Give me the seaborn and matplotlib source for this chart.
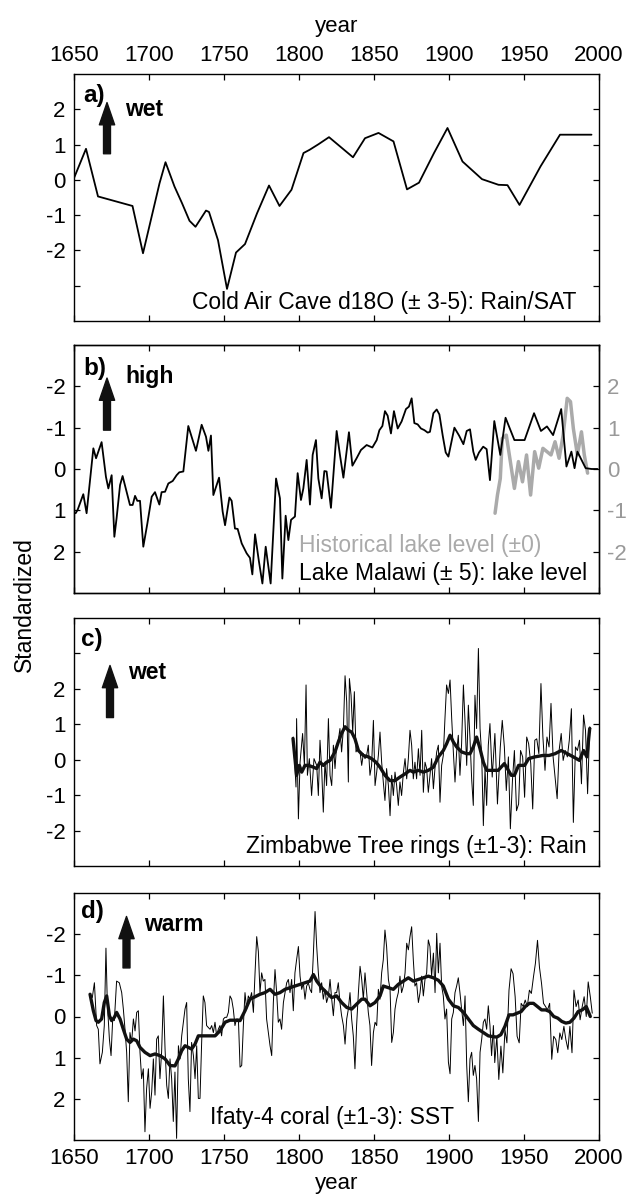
import numpy as np
import pandas as pd
import seaborn as sns
from matplotlib import pyplot as plt

# a) Cold Air Cave d18O
years_a = [1650, 1658, 1666, 1689, 1696, 1707, 1711, 1717, 1722, 1727, 1731, 1738, 1740, 1746,
           1752, 1758, 1764, 1772, 1780, 1787, 1795, 1803, 1807, 1813, 1820, 1836, 1844, 1853,
           1863, 1872, 1880, 1890, 1899, 1909, 1922, 1933, 1939, 1947, 1961, 1974, 1995]
vals_a = [0.05, 0.88, -0.47, -0.74, -2.08, -0.1, 0.5, -0.19, -0.66, -1.16, -1.33, -0.87, -0.91, -1.71,
          -3.09, -2.06, -1.82, -0.95, -0.16, -0.74, -0.28, 0.76, 0.85, 1.01, 1.21, 0.64, 1.18, 1.33,
          1.09, -0.27, -0.08, 0.76, 1.47, 0.52, 0.02, -0.14, -0.15, -0.71, 0.38, 1.28, 1.28]

# b) Lake Malawi lake level (left axis inverted)
years_b = [1651.1, 1652.4, 1654.4, 1656.2, 1658.4, 1662.9, 1664.7, 1668.4, 1671.3, 1672.9, 1675.1,
           1676.9, 1678.4, 1680.7, 1682.4, 1685.1, 1687.3, 1689.1, 1690.7, 1692.2, 1694.0, 1696.2,
           1698.9, 1701.8, 1704.0, 1706.9, 1708.4, 1710.7, 1712.9, 1715.8, 1718.4, 1720.2, 1722.9,
           1726.2, 1728.4, 1731.3, 1735.1, 1738.0, 1739.6, 1741.3, 1742.9, 1746.7, 1749.1, 1750.7,
           1753.6, 1755.1, 1757.3, 1759.1, 1761.8, 1765.1, 1767.3, 1768.9, 1770.7, 1773.3, 1775.6,
           1777.8, 1781.1, 1784.7, 1787.3, 1788.9, 1791.1, 1792.9, 1794.7, 1797.3, 1799.1, 1801.3,
           1802.9, 1805.1, 1807.3, 1809.1, 1811.3, 1812.9, 1815.1, 1816.9, 1818.4, 1821.3, 1825.1,
           1827.3, 1829.6, 1833.3, 1835.6, 1838.4, 1841.3, 1845.1, 1848.9, 1851.8, 1853.6, 1855.6,
           1857.3, 1859.1, 1861.3, 1863.3, 1865.8, 1868.4, 1871.3, 1873.3, 1875.1, 1876.9, 1879.1,
           1881.3, 1883.6, 1885.8, 1887.3, 1889.6, 1891.8, 1893.6, 1895.8, 1897.8, 1899.6, 1903.6,
           1906.7, 1909.6, 1911.8, 1914.0, 1916.2, 1917.8, 1920.0, 1922.8, 1925.1, 1927.3, 1930.2,
           1934.2, 1937.7, 1943.6, 1950.4, 1956.7, 1961.3, 1965.3, 1969.4, 1974.8, 1978.3, 1981.6,
           1983.7, 1985.6, 1991.1, 1995.1, 1999.0]
vals_b = [1.07, 0.99, 0.79, 0.61, 1.07, -0.5, -0.26, -0.65, 0.19, 0.47, 0.15,
          1.64, 1.19, 0.39, 0.17, 0.55, 0.87, 0.87, 0.65, 0.77, 0.77, 1.88,
          1.32, 0.67, 0.56, 0.86, 0.56, 0.55, 0.35, 0.29, 0.15, 0.08, 0.06,
          -1.04, -0.78, -0.44, -1.07, -0.78, -0.44, -0.81, 0.63, 0.21, 1.03, 1.36,
          0.69, 0.77, 1.44, 1.45, 1.8, 2.04, 2.15, 2.55, 1.58, 2.24, 2.77,
          1.88, 2.77, 0.23, 0.71, 2.65, 1.13, 1.72, 1.23, 1.15, 0.1, 0.75,
          0.47, -0.22, 0.86, -0.34, -0.7, 0.23, 0.71, 0.05, 0.06, 0.94, -0.92,
          -0.34, 0.21, -0.89, -0.08, -0.26, -0.46, -0.58, -0.52, -0.7, -0.94, -1.04,
          -1.4, -1.29, -0.86, -1.4, -0.98, -1.15, -1.45, -1.51, -1.71, -1.11, -1.08,
          -0.98, -0.94, -0.88, -0.9, -1.35, -1.44, -1.32, -0.81, -0.4, -0.3, -1.0,
          -0.81, -0.6, -0.92, -0.96, -0.42, -0.22, -0.4, -0.54, -0.48, 0.27, -1.16,
          -0.34, -1.24, -0.7, -0.7, -1.35, -0.92, -1.03, -0.82, -1.45, -0.06, -0.42,
          -0.02, -0.42, -0.02, 0.0, 0.0]

# b) historical lake level (right axis)
years_hist = [1930.7, 1932.3, 1934.2, 1935.5, 1938.2, 1940.9, 1943.6, 1946.3, 1949.0, 1951.7,
              1954.4, 1957.1, 1959.8, 1962.6, 1965.3, 1968.0, 1970.7, 1973.4, 1976.1, 1978.8,
              1981.0, 1982.9, 1985.6, 1988.3, 1990.2, 1992.4]
vals_hist = [-1.07, -0.63, -0.23, 0.74, 0.82, 0.18, -0.47, 0.18, -0.31, 0.34,
             -0.63, 0.42, 0.02, 0.5, 0.42, 0.34, 0.66, 0.26, 0.82, 1.71,
             1.63, 0.98, 0.34, 0.9, 0.34, -0.1]

# c) Zimbabwe tree rings
years_c = [1796.2, 1798.0, 1798.4, 1799.6, 1800.7, 1802.4, 1803.6, 1804.7, 1805.6, 1806.9, 1808.4,
           1810.0, 1811.8, 1812.9, 1814.0, 1815.1, 1816.2, 1817.3, 1818.4, 1819.6, 1820.7, 1821.8,
           1822.9, 1824.0, 1825.1, 1826.2, 1827.3, 1828.4, 1829.6, 1830.7, 1831.8, 1832.9, 1833.6,
           1834.7, 1835.8, 1836.9, 1838.0, 1839.1, 1840.7, 1841.8, 1842.9, 1844.0, 1845.1, 1846.2,
           1847.3, 1848.4, 1849.6, 1850.7, 1851.8, 1852.9, 1854.0, 1855.1, 1856.2, 1857.3, 1858.4,
           1859.6, 1860.7, 1861.8, 1862.9, 1864.0, 1865.1, 1866.2, 1867.3, 1868.4, 1869.6, 1870.7,
           1871.8, 1872.9, 1874.0, 1875.1, 1876.2, 1877.3, 1878.4, 1879.6, 1880.7, 1881.8, 1882.9,
           1884.0, 1885.1, 1886.2, 1887.3, 1888.4, 1889.6, 1890.7, 1891.8, 1892.9, 1894.0, 1895.1,
           1896.2, 1897.3, 1898.4, 1899.6, 1900.7, 1901.8, 1902.9, 1904.0, 1905.1, 1906.2, 1907.3,
           1908.4, 1909.6, 1910.7, 1911.8, 1912.9, 1914.0, 1915.1, 1916.2, 1917.3, 1918.4, 1919.6,
           1920.7, 1921.8, 1922.9, 1924.0, 1925.1, 1926.2, 1927.3, 1928.8, 1930.6, 1932.3, 1934.2,
           1935.5, 1936.9, 1938.2, 1939.6, 1940.9, 1942.3, 1943.6, 1945.0, 1946.4, 1947.7, 1949.1,
           1950.4, 1951.8, 1953.1, 1954.5, 1955.8, 1957.2, 1958.5, 1959.9, 1961.3, 1962.6, 1964.0,
           1965.3, 1966.7, 1968.0, 1969.4, 1970.7, 1972.1, 1973.4, 1974.8, 1976.1, 1977.5, 1978.9,
           1980.2, 1981.6, 1982.9, 1984.3, 1985.6, 1987.0, 1988.3, 1989.7, 1991.0, 1992.4, 1993.8,
           1994.6]
vals_c = [0.64, -0.77, 1.16, -1.67, -0.07, 0.74, -0.16, 2.11, -0.44, 0.03, -1.01,
          0.03, -0.16, -1.01, 0.55, -0.25, -1.48, -0.07, -0.73, 1.16, -0.44, -0.73,
          0.41, -0.25, 0.41, 0.55, 0.88, 0.22, 0.88, 2.37, 1.63, -0.63, 2.29,
          1.82, 0.78, 1.92, 0.22, 0.31, 0.22, -0.16, 0.17, 0.03, 0.12, 0.41,
          -0.44, -0.16, 1.11, -0.73, -0.35, 0.12, 0.78, -0.07, -0.63, -1.15, -0.25,
          -0.73, -1.58, -0.44, -1.01, -0.35, -0.73, -1.29, -0.63, -1.01, -0.35, 0.03,
          -0.54, 0.03, 0.83, 0.41, -0.54, -0.07, -0.54, 0.31, -0.44, 0.83, -0.92,
          -0.07, -0.25, -0.92, -0.44, 0.03, -0.82, -0.21, 0.22, 0.41, -1.2, -0.16,
          0.12, 1.16, 2.11, 1.87, 2.25, 1.16, 0.22, -0.63, 0.22, 0.69, -0.44,
          0.45, 2.11, 1.07, -0.16, 1.54, 0.59, -0.54, -1.29, 1.82, 0.88, 3.14,
          0.88, 0.12, -1.86, -0.25, -1.29, 0.41, 1.02, -0.49, 0.74, -1.25, 0.36,
          1.11, 0.36, -0.87, 0.08, -1.95, -0.59, 0.26, -1.44, -1.25, 0.26, 0.08,
          -1.06, 0.64, 0.45, -0.11, -1.39, 0.55, 0.59, 0.17, 2.15, 0.64, -0.3,
          0.64, 0.36, 1.59, 0.08, -0.49, -1.1, 0.26, 0.74, -0.02, 0.26, 0.08,
          0.55, 1.44, -1.77, 0.36, 0.26, 0.55, -0.68, 1.26, 0.83, -0.96, 0.93,
          0.88]

years_c_smooth = [1796.0, 1798.4, 1800.2, 1801.8, 1804.0, 1806.2, 1809.6, 1811.8, 1814.0, 1816.2,
                  1818.4, 1820.7, 1824.0, 1826.2, 1828.4, 1830.7, 1832.9, 1835.1, 1837.3, 1839.6,
                  1842.9, 1846.2, 1848.4, 1851.3, 1854.0, 1857.3, 1860.7, 1864.0, 1867.3, 1870.7,
                  1874.0, 1876.2, 1879.6, 1882.9, 1886.2, 1889.6, 1892.9, 1896.2, 1898.4, 1900.7,
                  1902.9, 1905.1, 1908.4, 1911.8, 1914.0, 1916.2, 1918.4, 1920.7, 1922.9, 1925.1,
                  1928.6, 1932.8, 1936.9, 1939.6, 1941.5, 1943.6, 1946.4, 1950.4, 1953.1, 1957.2,
                  1962.6, 1966.7, 1970.7, 1974.8, 1978.9, 1982.9, 1987.0, 1989.7, 1991.9, 1993.8]
vals_c_smooth = [0.6, -0.44, -0.16, -0.35, -0.16, -0.16, -0.21, -0.25, -0.07, -0.16,
                 -0.07, -0.02, 0.22, 0.5, 0.74, 0.93, 0.83, 0.78, 0.59, 0.26,
                 0.12, 0.08, 0.03, -0.07, -0.21, -0.44, -0.59, -0.59, -0.49, -0.4,
                 -0.3, -0.35, -0.3, -0.35, -0.3, -0.21, 0.08, 0.26, 0.45, 0.69,
                 0.5, 0.36, 0.22, 0.17, 0.17, 0.36, 0.64, 0.31, -0.07, -0.3,
                 -0.3, -0.3, -0.11, -0.3, -0.44, -0.44, -0.16, -0.16, 0.03, 0.08,
                 0.12, 0.12, 0.17, 0.26, 0.17, 0.08, -0.02, 0.26, 0.08, 0.88]

# d) Ifaty-4 coral (left axis inverted)
years_d = [1660.7, 1662.2, 1663.6, 1665.1, 1666.2, 1667.3, 1668.9, 1670.2, 1671.3, 1672.2, 1673.6,
           1674.7, 1675.8, 1676.9, 1678.4, 1680.2, 1681.8, 1682.9, 1684.0, 1685.1, 1686.2, 1687.3,
           1688.4, 1689.6, 1690.7, 1691.8, 1692.9, 1694.0, 1695.1, 1696.2, 1697.3, 1698.4, 1699.6,
           1700.7, 1701.8, 1702.9, 1704.0, 1705.1, 1706.2, 1707.3, 1708.4, 1709.6, 1710.7, 1711.8,
           1712.9, 1714.0, 1715.1, 1716.2, 1717.3, 1718.4, 1719.6, 1720.7, 1721.8, 1722.9, 1724.0,
           1725.1, 1726.2, 1727.3, 1728.4, 1729.6, 1730.7, 1731.8, 1732.9, 1734.0, 1735.1, 1736.2,
           1737.3, 1738.4, 1739.6, 1740.7, 1741.8, 1742.9, 1744.0, 1745.1, 1746.2, 1747.3, 1748.4,
           1749.6, 1750.7, 1751.8, 1752.9, 1754.0, 1755.1, 1756.2, 1757.3, 1758.4, 1759.6, 1760.7,
           1761.8, 1762.9, 1764.0, 1765.1, 1766.2, 1767.3, 1768.4, 1769.6, 1770.7, 1771.8, 1772.9,
           1774.0, 1775.1, 1776.2, 1777.3, 1778.4, 1779.6, 1780.7, 1781.8, 1782.9, 1784.0, 1785.1,
           1786.2, 1787.3, 1788.4, 1789.6, 1790.7, 1791.8, 1792.9, 1794.0, 1795.1, 1796.2, 1797.3,
           1798.4, 1799.6, 1800.7, 1801.8, 1802.9, 1804.0, 1805.1, 1806.2, 1807.3, 1808.4, 1809.6,
           1810.7, 1811.8, 1812.9, 1814.0, 1815.1, 1816.2, 1817.3, 1818.4, 1819.6, 1820.7, 1821.8,
           1822.9, 1824.0, 1825.1, 1826.2, 1827.3, 1828.4, 1829.6, 1830.7, 1831.8, 1832.9, 1834.0,
           1835.1, 1836.2, 1837.3, 1838.4, 1839.6, 1840.7, 1841.8, 1842.9, 1844.0, 1845.1, 1846.2,
           1847.3, 1848.4, 1849.6, 1850.7, 1851.8, 1852.9, 1854.0, 1855.1, 1856.2, 1857.3, 1858.4,
           1859.6, 1860.7, 1861.8, 1862.9, 1864.0, 1865.1, 1866.2, 1867.3, 1868.4, 1869.6, 1870.7,
           1871.8, 1872.9, 1874.0, 1875.1, 1876.2, 1877.3, 1878.4, 1879.6, 1880.7, 1881.8, 1882.9,
           1884.0, 1885.1, 1886.2, 1887.3, 1888.4, 1889.6, 1890.7, 1891.8, 1892.9, 1894.0, 1895.1,
           1896.2, 1897.3, 1898.4, 1899.6, 1900.7, 1901.8, 1902.9, 1904.0, 1905.1, 1906.2, 1907.3,
           1908.4, 1909.6, 1910.7, 1911.8, 1912.9, 1914.0, 1915.1, 1916.2, 1917.3, 1918.4, 1919.6,
           1920.7, 1921.8, 1922.9, 1924.0, 1925.1, 1926.2, 1927.3, 1928.4, 1929.6, 1930.5, 1931.9,
           1933.2, 1934.6, 1935.9, 1937.3, 1938.6, 1940.0, 1941.4, 1942.7, 1944.1, 1945.4, 1946.8,
           1948.1, 1949.5, 1950.8, 1952.2, 1953.6, 1954.9, 1956.3, 1957.6, 1959.0, 1960.3, 1961.7,
           1963.0, 1964.4, 1965.7, 1967.1, 1968.5, 1969.8, 1971.2, 1972.5, 1973.9, 1975.2, 1976.6,
           1977.9, 1979.3, 1980.6, 1982.0, 1983.3, 1984.7, 1986.1, 1987.4, 1988.8, 1990.1, 1991.5,
           1992.8, 1994.2, 1995.5]
vals_d = [-0.54, -0.46, -0.82, 0.22, 0.31, 1.15, 0.87, 0.22, -1.66, -0.34, 0.55,
          0.95, 0.06, 0.1, -0.86, -0.82, -0.58, -0.18, 0.31, 0.87, 2.07, 0.39,
          0.63, 0.06, 0.35, -0.1, -0.14, 0.87, 1.51, 1.27, 2.8, 1.75, 1.27,
          2.23, 1.83, 1.03, 1.91, 0.55, 0.47, 1.51, 0.87, -0.5, 0.79, 1.67,
          1.99, 1.03, 1.51, 2.55, 1.35, 2.96, 0.71, 1.03, 0.47, 0.14, -0.18,
          -0.34, 1.51, 2.31, 0.63, 0.95, 1.51, 0.71, 1.99, 1.99, 0.63, -0.5,
          -0.34, 0.22, 0.27, 0.31, 0.22, 0.39, 0.14, 0.47, 0.31, 0.22, 0.47,
          0.06, 0.02, 0.02, -0.1, -0.5, -0.42, -0.18, 0.22, 0.06, 0.06, 1.23,
          1.19, 0.22, -0.58, -0.18, -0.5, -0.42, -0.58, -0.1, -1.06, -1.94, -1.58,
          -0.58, -1.06, -0.86, -0.9, 0.06, 0.39, 0.71, 0.95, -0.34, -1.14, -0.58,
          0.14, 0.06, 0.31, -0.34, -0.58, -0.82, -0.9, -0.58, -0.9, -0.14, -1.06,
          -1.38, -1.7, -0.98, -0.66, -0.82, -0.42, -0.74, -0.82, -0.66, -0.58, -1.54,
          -2.55, -1.7, -1.06, -0.58, -0.82, -0.42, -0.66, -0.34, -0.5, -0.9, -0.42,
          -0.02, -0.58, -0.58, -0.82, -0.34, -0.02, 0.22, 0.67, 0.06, -0.18, -0.58,
          0.06, 0.47, 1.27, 0.22, -0.58, -1.22, -0.9, -0.42, -1.06, -0.58, -0.1,
          0.22, 1.19, 0.39, 0.14, 0.22, -0.66, -0.42, -1.06, -1.38, -2.1, -1.7,
          -0.9, -0.66, 0.63, 0.39, -0.18, -0.42, -0.58, -0.98, -0.58, -0.74, -1.06,
          -1.78, -1.62, -1.94, -2.18, -1.38, -0.74, -0.82, -0.34, -0.58, -0.98, -0.5,
          -0.9, -1.06, -1.86, -1.7, -0.98, -1.54, -0.58, -2.02, -1.06, -1.78, -0.74,
          -0.5, 0.06, -0.18, 1.11, 1.39, 0.06, -0.1, -0.58, -0.74, -0.94, -0.58,
          -0.18, 0.22, -0.5, 1.19, 2.07, 1.03, 0.87, 1.43, 1.19, 1.51, 2.55,
          0.87, 0.55, 0.14, 0.06, 0.31, -0.26, 0.22, 0.95, 0.22, 1.12, 0.48,
          1.53, 0.72, 1.37, 0.32, 0.64, -0.64, -1.16, -1.04, -0.48, 0.48, 0.64,
          -0.32, -0.24, -0.4, -0.24, -0.64, -0.56, -0.96, -1.29, -1.85, -1.2, -0.8,
          -0.32, -0.24, -0.16, -0.32, 1.04, 0.48, 0.56, 0.88, 0.4, 0.56, 0.24,
          0.56, 0.8, 0.24, 0.88, -0.64, -0.24, -0.4, 0.08, -0.24, -0.48, 0.0,
          -0.84, -0.48, -0.08]

years_d_smooth = [1660.7, 1662.9, 1664.7, 1666.2, 1668.4, 1670.2, 1671.8, 1673.6, 1675.1, 1676.9,
                  1678.4, 1680.7, 1682.9, 1685.1, 1687.3, 1689.6, 1691.8, 1694.0, 1697.3, 1700.7,
                  1704.0, 1707.3, 1710.7, 1714.0, 1717.3, 1719.6, 1721.8, 1724.0, 1726.2, 1728.4,
                  1730.7, 1732.9, 1736.2, 1740.7, 1744.0, 1747.3, 1750.7, 1754.0, 1757.3, 1760.7,
                  1764.0, 1767.3, 1770.7, 1774.0, 1777.3, 1780.7, 1784.0, 1787.3, 1790.7, 1794.0,
                  1797.3, 1800.7, 1804.0, 1807.3, 1809.6, 1811.8, 1815.1, 1818.4, 1821.8, 1825.1,
                  1828.4, 1831.8, 1835.1, 1838.4, 1841.8, 1844.0, 1847.3, 1850.7, 1854.0, 1856.2,
                  1859.6, 1862.9, 1866.2, 1869.6, 1872.9, 1876.2, 1879.6, 1882.9, 1886.2, 1889.6,
                  1892.9, 1896.2, 1899.6, 1902.9, 1906.2, 1909.6, 1912.9, 1916.2, 1919.6, 1922.9,
                  1926.2, 1929.4, 1931.9, 1934.6, 1937.3, 1940.0, 1942.7, 1945.4, 1948.1, 1950.8,
                  1953.6, 1956.3, 1959.0, 1961.7, 1964.4, 1967.1, 1969.8, 1972.5, 1975.2, 1977.9,
                  1980.6, 1983.3, 1986.1, 1988.8, 1991.5, 1994.2]
vals_d_smooth = [-0.54, -0.14, 0.1, 0.14, 0.06, -0.34, -0.5, -0.02, 0.1, 0.02,
                 -0.1, 0.06, 0.31, 0.55, 0.63, 0.55, 0.59, 0.75, 0.87, 0.95,
                 0.91, 0.95, 1.03, 1.19, 1.2, 1.03, 0.83, 0.71, 0.75, 0.79,
                 0.67, 0.47, 0.47, 0.47, 0.47, 0.35, 0.14, 0.09, 0.09, 0.1,
                 -0.14, -0.42, -0.48, -0.54, -0.58, -0.66, -0.54, -0.58, -0.66, -0.7,
                 -0.74, -0.78, -0.82, -0.86, -1.02, -0.86, -0.7, -0.58, -0.46, -0.5,
                 -0.34, -0.22, -0.18, -0.3, -0.42, -0.42, -0.26, -0.34, -0.5, -0.74,
                 -0.7, -0.66, -0.78, -0.86, -0.94, -0.86, -0.9, -0.94, -0.98, -0.94,
                 -0.88, -0.74, -0.42, -0.26, -0.22, -0.1, 0.06, 0.22, 0.31, 0.39,
                 0.47, 0.49, 0.5, 0.44, 0.24, -0.04, -0.04, -0.08, -0.12, -0.24,
                 -0.32, -0.32, -0.24, -0.16, -0.16, -0.12, 0.0, 0.04, 0.12, 0.16,
                 0.14, 0.04, -0.12, -0.16, -0.24, 0.0]

sns.set_style("ticks")
plt.rcParams['font.family'] = ['Liberation Sans', 'DejaVu Sans']
plt.rcParams['axes.unicode_minus'] = False
plt.rcParams['axes.linewidth'] = 1.0
plt.rcParams['text.color'] = 'black'
plt.rcParams['axes.labelcolor'] = 'black'
FS = 16      # tick labels
FT = 16.5    # annotations
FB = 17.5    # bold panel letters

fig = plt.figure(figsize=(6.37, 11.98), dpi=100)
left, width = 74 / 637, 525 / 637
ax_a = fig.add_axes([left, 1 - 321 / 1198, width, 247 / 1198])
ax_b = fig.add_axes([left, 1 - 593 / 1198, width, 248 / 1198])
ax_c = fig.add_axes([left, 1 - 866 / 1198, width, 248 / 1198])
ax_d = fig.add_axes([left, 1 - 1140 / 1198, width, 247 / 1198])

xticks = np.arange(1650, 2001, 50)


def style_axis(ax):
    ax.set_xlim(1650, 2000)
    ax.set_xticks(xticks)
    ax.tick_params(direction='in', length=4, width=0.9, top=True, right=True,
                   labelsize=FS, colors='black')
    ax.tick_params(axis='y', pad=6)
    ax.tick_params(axis='x', pad=6)
    for s in ax.spines.values():
        s.set_color('black')
        s.set_linewidth(1.0)
    ax.set_xlabel('')
    ax.set_ylabel('')


def arrow(ax, x, y0, y1):
    ax.annotate('', xy=(x, y1), xytext=(x, y0),
                arrowprops=dict(facecolor='#111111', edgecolor='#111111',
                                width=5, headwidth=11, headlength=16, shrink=0))


# a)
sns.lineplot(x=years_a, y=vals_a, ax=ax_a, color='black', linewidth=1.3, estimator=None)
style_axis(ax_a)
ax_a.set_ylim(-4, 3)
ax_a.set_yticks([-3, -2, -1, 0, 1, 2])
ax_a.set_yticklabels(['', '-2', '-1', '0', '1', '2'])
ax_a.tick_params(labeltop=True, labelbottom=False)
ax_a.xaxis.set_label_position('top')
ax_a.set_xlabel('year', fontsize=FS, labelpad=9, color='black')
ax_a.text(1656, 2.4, 'a)', fontsize=FB, fontweight='bold', va='center', color='black')
ax_a.text(1684, 2.0, 'wet', fontsize=FT, fontweight='bold', va='center', color='black')
arrow(ax_a, 1672, 0.74, 2.19)
ax_a.text(1985, -3.47, 'Cold Air Cave d18O (± 3-5): Rain/SAT', fontsize=FT, ha='right', va='center',
          color='black')

# b)
sns.lineplot(x=years_b, y=vals_b, ax=ax_b, color='black', linewidth=1.3, estimator=None)
style_axis(ax_b)
ax_b.set_ylim(3, -3)
ax_b.set_yticks([-2, -1, 0, 1, 2])
ax_b.tick_params(labelbottom=False, right=False)
ax_b2 = ax_b.twinx()
sns.lineplot(x=years_hist, y=vals_hist, ax=ax_b2, color='#aaaaaa', linewidth=2.5, estimator=None)
ax_b2.set_ylim(-3, 3)
ax_b2.set_yticks([-2, -1, 0, 1, 2])
ax_b2.tick_params(direction='in', length=4, width=0.9, pad=6, labelsize=FS,
                  color='black', labelcolor='#999999')
ax_b2.set_ylabel('')
ax_b.set_zorder(ax_b2.get_zorder() + 1)
ax_b.patch.set_visible(False)
ax_b.text(1656, -2.42, 'b)', fontsize=FB, fontweight='bold', va='center', color='black')
ax_b.text(1684, -2.23, 'high', fontsize=FT, fontweight='bold', va='center', color='black')
arrow(ax_b, 1672, -0.94, -2.2)
ax_b.text(1800, 1.86, 'Historical lake level (±0)', fontsize=FT, color='#aaaaaa', va='center')
ax_b.text(1800, 2.52, 'Lake Malawi (± 5): lake level', fontsize=FT, va='center', color='black')

# c)
sns.lineplot(x=years_c, y=vals_c, ax=ax_c, color='black', linewidth=0.7, estimator=None)
sns.lineplot(x=years_c_smooth, y=vals_c_smooth, ax=ax_c, color='#111111', linewidth=2.4, estimator=None)
style_axis(ax_c)
ax_c.set_ylim(-3, 4)
ax_c.set_yticks([-2, -1, 0, 1, 2, 3])
ax_c.set_yticklabels(['-2', '-1', '0', '1', '2', ''])
ax_c.tick_params(labelbottom=False)
ax_c.text(1655, 3.4, 'c)', fontsize=FB, fontweight='bold', va='center', color='black')
ax_c.text(1686, 2.47, 'wet', fontsize=FT, fontweight='bold', va='center', color='black')
arrow(ax_c, 1674, 1.19, 2.66)
ax_c.text(1992, -2.44, 'Zimbabwe Tree rings (±1-3): Rain', fontsize=FT, ha='right', va='center',
          color='black')

# d)
sns.lineplot(x=years_d, y=vals_d, ax=ax_d, color='black', linewidth=0.7, estimator=None)
sns.lineplot(x=years_d_smooth, y=vals_d_smooth, ax=ax_d, color='#111111', linewidth=2.4, estimator=None)
style_axis(ax_d)
ax_d.set_ylim(3, -3)
ax_d.set_yticks([-2, -1, 0, 1, 2])
ax_d.set_xlabel('year', fontsize=FS, labelpad=3, color='black')
ax_d.text(1655, -2.56, 'd)', fontsize=FB, fontweight='bold', va='center', color='black')
ax_d.text(1697, -2.24, 'warm', fontsize=FT, fontweight='bold', va='center', color='black')
arrow(ax_d, 1685, -1.18, -2.43)
ax_d.text(1822, 2.46, 'Ifaty-4 coral (±1-3): SST', fontsize=FT, ha='center', va='center', color='black')

fig.text(24 / 637, 1 - 605 / 1198, 'Standardized', fontsize=FT, rotation=90, ha='center', va='center',
         color='black')

fig.savefig('out.png', dpi=100)
